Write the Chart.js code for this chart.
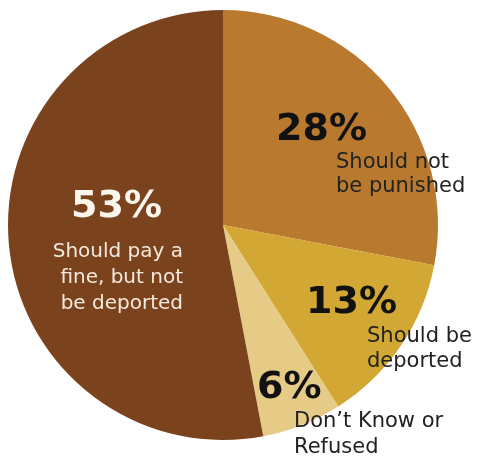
<!DOCTYPE html>
<html>
<head>
<meta charset="utf-8">
<script src="https://cdn.jsdelivr.net/npm/chart.js@4"></script>
<style>
  html, body { margin: 0; padding: 0; background: #fff; }
  #wrap { width: 482px; height: 457px; }
</style>
</head>
<body>
<div id="wrap"><canvas id="myChart" width="482" height="457"></canvas></div>
<script>
// data, clockwise from 12 o'clock
const categorias = ['Should not be punished', 'Should be deported', "Don\u2019t Know or Refused", 'Should pay a fine, but not be deported'];
const valores = [28, 13, 6, 53];
const etiquetas = [
  ['Should not', 'be punished'],
  ['Should be', 'deported'],
  ['Don\u2019t Know or', 'Refused'],
  ['Should pay a', 'fine, but not', 'be deported']
];
const colores = ['#B97A2F', '#D2A733', '#E5CB86', '#7A431E'];

// where each label sits, offset from the pie centre (px)
const posiciones = [
  { align: 'left',  px: 53,  py: -85, tx: 113, ty: -57, lh: 24, fs: 21, pct: '#111', txt: '#222' },
  { align: 'left',  px: 83,  py: 88,  tx: 144, ty: 117, lh: 25, fs: 21, pct: '#111', txt: '#222' },
  { align: 'left',  px: 34,  py: 173, tx: 71,  ty: 202, lh: 26, fs: 21, pct: '#111', txt: '#222' },
  { align: 'right', px: -61, py: -8,  tx: -40, ty: 32,  lh: 26, fs: 20, pct: '#fbf6ee', txt: '#f3e9dc' }
];

const etiquetasPlugin = {
  id: 'etiquetas',
  afterDatasetsDraw(chart) {
    const ctx = chart.ctx;
    const arc = chart.getDatasetMeta(0).data[0];
    const cx = arc.x, cy = arc.y;
    ctx.save();
    ctx.textBaseline = 'alphabetic';
    valores.forEach((v, i) => {
      const p = posiciones[i];
      ctx.textAlign = p.align;
      ctx.fillStyle = p.pct;
      ctx.font = 'bold 38px "DejaVu Sans", Verdana, sans-serif';
      ctx.fillText(v + '%', cx + p.px, cy + p.py);
      ctx.fillStyle = p.txt;
      ctx.font = p.fs + 'px "DejaVu Sans", Verdana, sans-serif';
      etiquetas[i].forEach((linea, j) => {
        ctx.fillText(linea, cx + p.tx, cy + p.ty + j * p.lh);
      });
    });
    ctx.restore();
  }
};

const config = {
  type: 'pie',
  data: {
    labels: categorias,
    datasets: [{
      data: valores,
      backgroundColor: colores,
      borderWidth: 0
    }]
  },
  options: {
    responsive: false,
    animation: false,
    layout: { padding: { left: 8, right: 44, top: 10, bottom: 17 } },
    plugins: {
      legend: { display: false },
      tooltip: { enabled: false }
    }
  },
  plugins: [etiquetasPlugin]
};

const myChart = new Chart(document.getElementById('myChart'), config);
</script>
</body>
</html>
